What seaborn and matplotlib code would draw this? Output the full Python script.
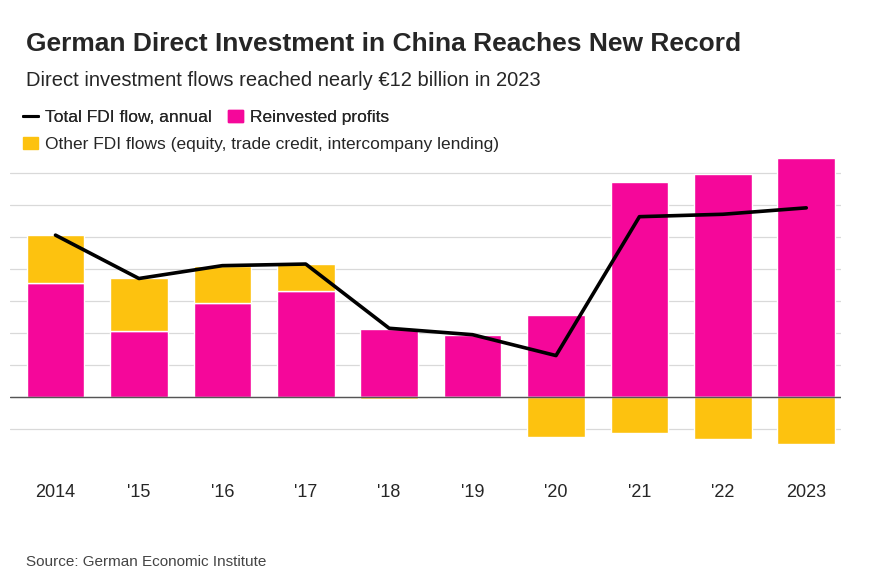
import numpy as np
import pandas as pd
import matplotlib.pyplot as plt
from matplotlib.lines import Line2D
from matplotlib.patches import Patch
import seaborn as sns

# data (EUR billion)
years = ['2014', "'15", "'16", "'17", "'18", "'19", "'20", "'21", "'22", '2023']
reinvested = [7.1, 4.1, 5.9, 6.6, 4.25, 3.9, 5.1, 13.4, 13.9, 14.9]
other = [3.0, 3.3, 2.3, 1.7, -0.1, 0.0, -2.5, -2.2, -2.6, -2.9]
total = [10.1, 7.4, 8.2, 8.3, 4.3, 3.9, 2.6, 11.25, 11.4, 11.8]

pink = '#f5079a'
gold = '#fdc20f'

sns.set_style('white')
plt.rcParams['font.family'] = ['Liberation Sans', 'DejaVu Sans']

fig = plt.figure(figsize=(8.7, 5.8), dpi=100)
ax = fig.add_axes([0.012, 0.207, 0.955, 0.526])

df = pd.DataFrame({'year': years, 'reinvested': reinvested, 'other': other, 'total': total})
x = np.arange(len(years))

# gridlines
for g in range(-2, 16, 2):
    ax.axhline(g, color='#d9d9d9', lw=0.9, zorder=0)
ax.axhline(0, color='#555555', lw=1.0, zorder=3)

sns.barplot(data=df, x='year', y='reinvested', color=pink, width=0.69,
            saturation=1, ax=ax, zorder=2)
bottoms = [r if o > 0 else 0 for r, o in zip(reinvested, other)]
ax.bar(x, other, bottom=bottoms, color=gold, width=0.69, zorder=2)
sns.lineplot(x=x, y=total, color='black', lw=2.6, ax=ax, zorder=4)

ax.set_xlim(-0.54, 9.42)
ax.set_ylim(-3.9, 15.1)
ax.set_xlabel('')
ax.set_ylabel('')
ax.set_yticks([])
ax.set_xticks(x)
ax.set_xticklabels(years, fontsize=13)
ax.tick_params(axis='x', length=0, pad=17)
sns.despine(ax=ax, left=True, bottom=True)

fig.text(0.03, 0.912, 'German Direct Investment in China Reaches New Record',
         fontsize=19, fontweight='bold')
fig.text(0.03, 0.852, 'Direct investment flows reached nearly €12 billion in 2023',
         fontsize=14.5)
fig.text(0.03, 0.025, 'Source: German Economic Institute', fontsize=11, color='#444444')

h1 = [Line2D([0], [0], color='black', lw=2.2), Patch(color=pink)]
leg1 = fig.legend(h1, ['Total FDI flow, annual', 'Reinvested profits'], ncol=2,
                  loc='upper left', bbox_to_anchor=(0.018, 0.822), frameon=False,
                  fontsize=12.5, handlelength=0.9, handletextpad=0.4, columnspacing=0.9,
                  borderaxespad=0)
fig.add_artist(leg1)
fig.legend([Patch(color=gold)], ['Other FDI flows (equity, trade credit, intercompany lending)'],
           loc='upper left', bbox_to_anchor=(0.018, 0.776), frameon=False, fontsize=12.5,
           handlelength=0.9, handletextpad=0.4, borderaxespad=0)

fig.savefig('out.png', dpi=100)
